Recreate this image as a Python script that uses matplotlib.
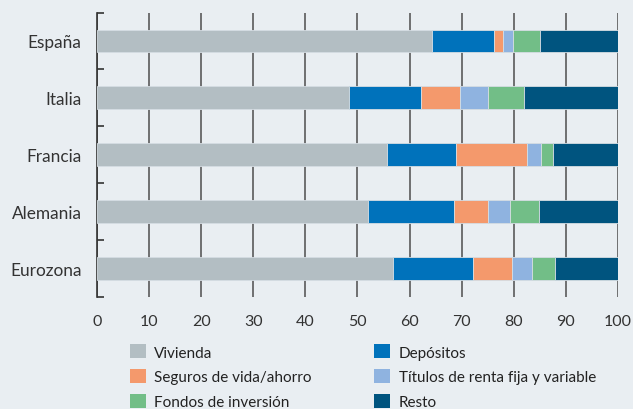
import numpy as np
import matplotlib
matplotlib.use("Agg")
import matplotlib.pyplot as plt
from matplotlib.patches import Patch

plt.rcParams['font.family'] = ['Lato', 'DejaVu Sans']

#%%==============================================================================
# Data (% of household wealth)

paises = ["España", "Italia", "Francia", "Alemania", "Eurozona"]

vivienda  = [64.3, 48.4, 55.6, 52.1, 56.9]
depositos = [11.9, 13.7, 13.3, 16.4, 15.2]
seguros   = [1.8, 7.6, 13.6, 6.6, 7.6]
titulos   = [1.9, 5.3, 2.7, 4.2, 3.7]
fondos    = [5.2, 6.9, 2.3, 5.6, 4.6]
resto     = [14.9, 18.1, 12.5, 15.1, 12.0]

series = ["Vivienda", "Depósitos", "Seguros de vida/ahorro",
          "Títulos de renta fija y variable", "Fondos de inversión", "Resto"]
valores = [vivienda, depositos, seguros, titulos, fondos, resto]
colores = ["#B3BEC3", "#0072BB", "#F4996C", "#8FB3E0", "#72BE87", "#00547F"]

bg = "#E9EEF2"

#%%==============================================================================
# Plot

fig = plt.figure(figsize=(6.33, 4.10), dpi=100, facecolor=bg)
ax = fig.add_axes([0.1532, 0.2732, 0.8231, 0.6938], facecolor=bg)

ypos = np.arange(len(paises))[::-1]
left = np.zeros(len(paises))
for nombre, vals, col in zip(series, valores, colores):
    vals = np.array(vals)
    ax.barh(ypos, vals, left=left, height=0.4, color=col,
            edgecolor="#d5dde3", linewidth=0.6, zorder=3, label=nombre)
    left += vals

ax.set_xlim(0, 100)
ax.set_ylim(-0.5, len(paises) - 0.5)
ax.set_xticks(np.arange(0, 101, 10))
ax.xaxis.grid(True, color="#4d4d4d", linewidth=1.1, zorder=0)
ax.set_axisbelow(True)

ax.set_yticks(ypos)
ax.set_yticklabels(paises, fontsize=12.4, color="#333333")
ax.set_yticks(np.arange(-0.5, len(paises)), minor=True)
ax.tick_params(axis="y", which="major", length=0, pad=11)
ax.tick_params(axis="y", which="minor", direction="in", length=5, width=1.2, color="#333333")
ax.tick_params(axis="x", length=0, pad=12, labelsize=11.5, labelcolor="#333333")

for s in ["top", "right", "bottom"]:
    ax.spines[s].set_visible(False)
ax.spines["left"].set_color("#333333")
ax.spines["left"].set_linewidth(1.2)

# legend: column-wise order
orden = [0, 2, 4, 1, 3, 5]
handles = [Patch(facecolor=colores[i], edgecolor="none") for i in orden]
labels = [series[i] for i in orden]
fig.legend(handles, labels, ncol=2, loc="upper left", bbox_to_anchor=(0.205, 0.158),
           frameon=False, fontsize=11, handlelength=1.05, handleheight=1.05,
           handletextpad=0.55, columnspacing=4.1, labelspacing=0.62,
           borderaxespad=0, borderpad=0, labelcolor="#222222")

fig.savefig("out.png", dpi=100, facecolor=bg)
